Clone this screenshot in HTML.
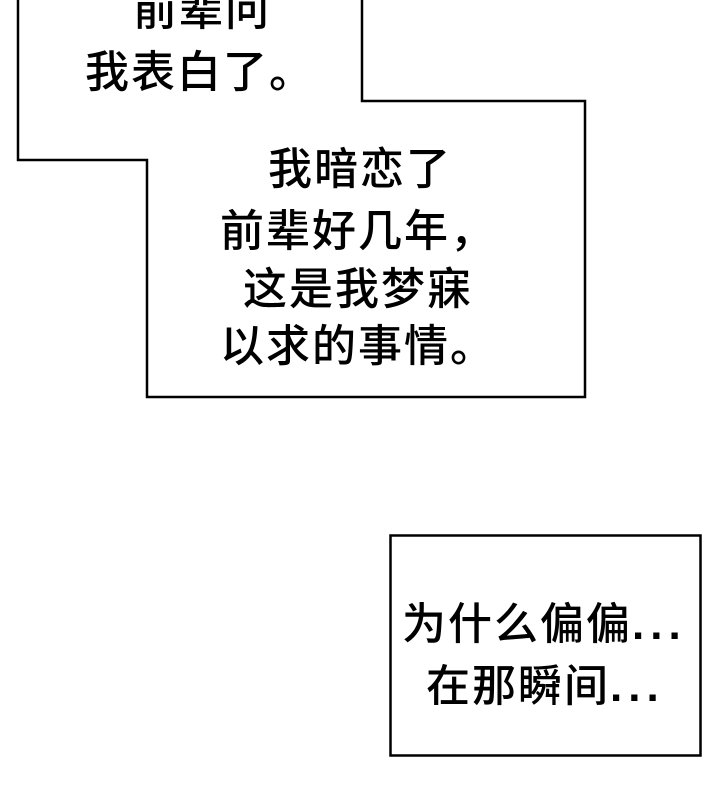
<!DOCTYPE html>
<html><head><meta charset="utf-8"><style>
body{margin:0;width:720px;height:809px;background:#fff;position:relative;overflow:hidden;}
.t{position:absolute;font-size:44px;line-height:44px;color:#000;white-space:nowrap;letter-spacing:2px;font-family:"Noto Sans CJK SC",sans-serif;font-weight:500;}
.e{font-family:"Liberation Sans",sans-serif;font-weight:bold;letter-spacing:6px;}
</style></head><body>
<svg width="720" height="809" style="position:absolute;left:0;top:0">
<polygon points="18,-5 18,160 147,160 147,397 585,397 585,101 362,101 362,-5" fill="#fff" stroke="#000" stroke-width="2.5"/>
<rect x="390.5" y="535.5" width="310" height="220" fill="#fff" stroke="#000" stroke-width="2.5"/>
</svg>
<div class="t" style="left:133px;top:-16px">前辈问</div>
<div class="t" style="left:85px;top:46px">我表白了。</div>
<div class="t" style="left:268px;top:143px">我暗恋了</div>
<div class="t" style="left:220px;top:205px">前辈好几年，</div>
<div class="t" style="left:243px;top:263px">这是我梦寐</div>
<div class="t" style="left:220px;top:320px">以求的事情。</div>
<div class="t" style="left:402px;top:598px">为什么偏偏<span class="e">...</span></div>
<div class="t" style="left:426px;top:660px">在那瞬间<span class="e">...</span></div>
</body></html>
